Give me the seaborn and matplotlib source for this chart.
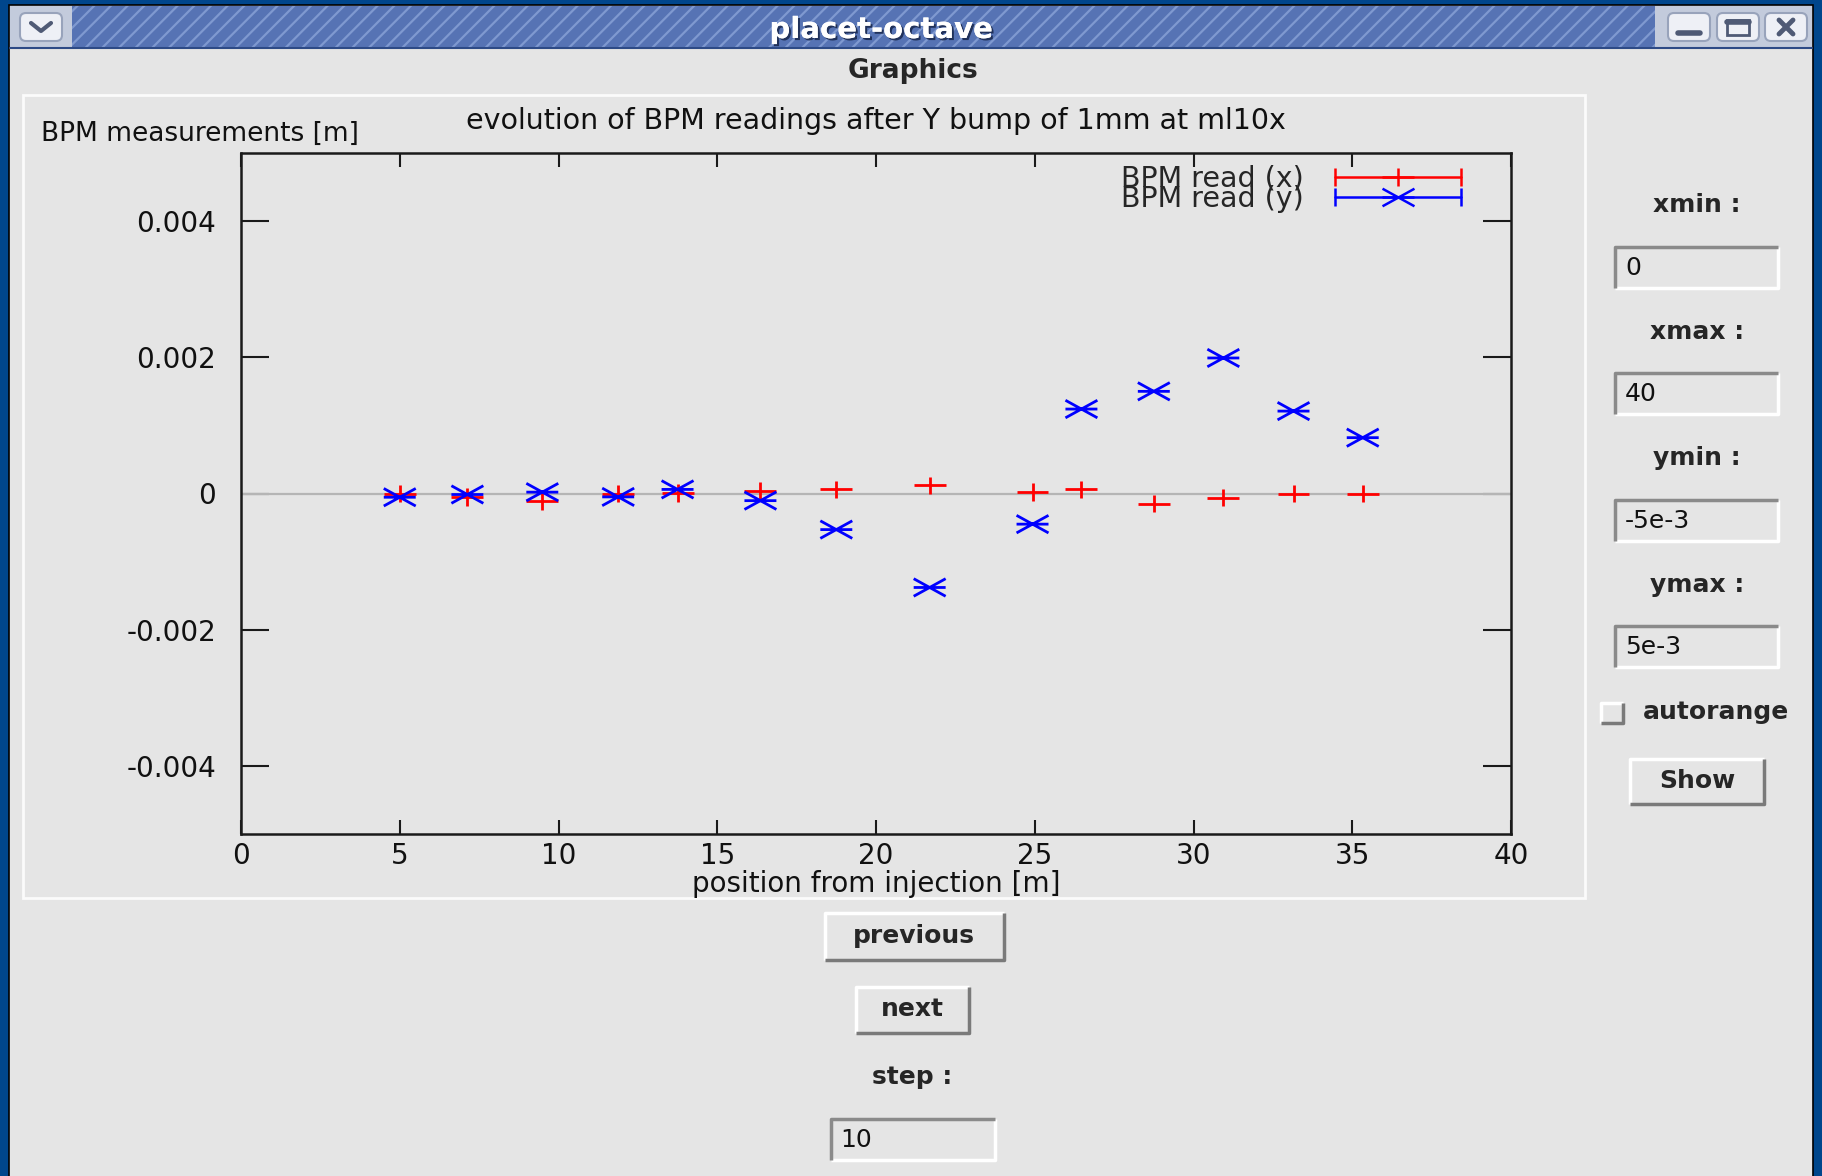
import numpy as np
import pandas as pd
import seaborn as sns
import matplotlib.pyplot as plt
import matplotlib.transforms as mtransforms
import matplotlib.patheffects as pe
from matplotlib.patches import Rectangle, FancyBboxPatch
from matplotlib.path import Path
from matplotlib.lines import Line2D
from matplotlib.legend_handler import HandlerLine2D

# BPM positions from injection [m]
positions = [5.0, 7.13, 9.49, 11.88, 13.75, 16.36, 18.75, 21.69, 24.93, 26.47, 28.75, 30.94, 33.15, 35.33]
# BPM readings [m]
read_x = [0.0, -0.055e-3, -0.115e-3, 0.0, 0.01e-3, 0.035e-3, 0.06e-3,
          0.12e-3, 0.025e-3, 0.06e-3, -0.15e-3, -0.06e-3, 0.0, 0.0]
read_y = [-0.055e-3, -0.015e-3, 0.02e-3, -0.05e-3, 0.06e-3, -0.105e-3, -0.53e-3,
          -1.38e-3, -0.45e-3, 1.24e-3, 1.50e-3, 1.99e-3, 1.21e-3, 0.82e-3]
series_labels = ['BPM read (x)', 'BPM read (y)']
series_colors = ['#ff0000', '#0000ff']

xticks = [0, 5, 10, 15, 20, 25, 30, 35, 40]
yticks = [-0.004, -0.002, 0, 0.002, 0.004]
ytick_labels = ['-0.004', '-0.002', '0', '0.002', '0.004']

# right-hand control panel
field_names = ['xmin :', 'xmax :', 'ymin :', 'ymax :']
field_values = ['0', '40', '-5e-3', '5e-3']

df = pd.DataFrame({'pos': positions, 'x': read_x, 'y': read_y})

sns.set_theme(style='ticks')
plt.rcParams['font.family'] = ['DejaVu Sans']
plt.rcParams['hatch.linewidth'] = 1.6

W, H = 1822, 1176
BG = '#e5e5e5'
fig = plt.figure(figsize=(W / 100, H / 100), dpi=100, facecolor='#00468c')
# pixel coordinates, origin top-left
px = mtransforms.Affine2D().scale(1 / W, -1 / H).translate(0, 1) + fig.transFigure


def rect(x0, y0, x1, y1, **kw):
    fig.patches.append(Rectangle((x0, y0), x1 - x0, y1 - y0, transform=px, **kw))


def line(xs, ys, **kw):
    fig.add_artist(Line2D(xs, ys, transform=px, **kw))


def sunken(x0, y0, x1, y1):
    rect(x0, y0, x1, y1, facecolor=BG, edgecolor='none')
    line([x0, x1, x1], [y1, y1, y0], color='white', lw=2.5, solid_capstyle='butt')
    line([x0, x0, x1], [y1, y0, y0], color='#8a8a8a', lw=2.5, solid_capstyle='butt')


def raised(x0, y0, x1, y1):
    rect(x0, y0, x1, y1, facecolor=BG, edgecolor='none')
    line([x0, x0, x1], [y1, y0, y0], color='white', lw=2.5, solid_capstyle='butt')
    line([x0, x1, x1], [y1, y1, y0], color='#7a7a7a', lw=2.5, solid_capstyle='butt')


# window body
rect(9, 5, 1813, 1180, facecolor=BG, edgecolor='black', lw=1.2)

# title bar
rect(10, 6, 1812, 48, facecolor='#5673b4', edgecolor='#7f99d0', hatch='//', lw=0)
rect(10, 6, 72, 48, facecolor='#c3cbdc', edgecolor='none')
rect(1655, 6, 1812, 48, facecolor='#c3cbdc', edgecolor='none')
line([10, 1812], [48, 48], color='#2d4a86', lw=1.5)
for bx0, bx1 in [(20, 62), (1668, 1710), (1717, 1759), (1765, 1807)]:
    fig.patches.append(FancyBboxPatch((bx0, 13), bx1 - bx0, 28, boxstyle='round,pad=0,rounding_size=6',
                                      transform=px, facecolor='#eef0f6', edgecolor='#98a3bb', lw=1.5))
line([31, 41, 51], [23, 31, 23], color='#4f5a75', lw=3)
line([1678, 1700], [33, 33], color='#4f5a75', lw=4)
rect(1727, 20, 1749, 35, facecolor='none', edgecolor='#4f5a75', lw=2)
line([1727, 1749], [22, 22], color='#4f5a75', lw=4)
line([1779, 1793], [20, 34], color='#4f5a75', lw=3.5)
line([1779, 1793], [34, 20], color='#4f5a75', lw=3.5)
fig.text(881, 30, 'placet-octave', transform=px, ha='center', va='center', color='white',
         fontsize=21, fontweight='bold',
         path_effects=[pe.withSimplePatchShadow(offset=(1.5, -1.5), shadow_rgbFace='#1a2a50', alpha=0.9),
                       pe.Normal()])

fig.text(913, 71, 'Graphics', transform=px, ha='center', va='center', fontsize=19, fontweight='bold')

# plot panel frame
rect(23, 95, 1585, 898, facecolor='none', edgecolor='#fbfbfb', lw=2)
fig.text(41, 134, 'BPM measurements [m]', transform=px, ha='left', va='center', fontsize=19, color='#111111')

# plot
ax = fig.add_axes([241 / W, 1 - 834 / H, (1511 - 241) / W, (834 - 153) / H])
ax.set_zorder(10)
ax.set_facecolor(BG)
ax.axhline(0, color='#b5b5b5', lw=1.6, zorder=1)

plus_path = Path([(-1, 0), (1, 0), (0, -0.55), (0, 0.55)],
                 [Path.MOVETO, Path.LINETO, Path.MOVETO, Path.LINETO])
cross_path = Path([(-1, -0.55), (1, 0.55), (-1, 0.55), (1, -0.55), (-1, 0), (1, 0)],
                  [Path.MOVETO, Path.LINETO, Path.MOVETO, Path.LINETO, Path.MOVETO, Path.LINETO])

sns.scatterplot(data=df, x='pos', y='x', marker=plus_path, s=23 ** 2, color=series_colors[0],
                facecolor='none', edgecolor=series_colors[0], linewidth=2.0, ax=ax, zorder=3)
sns.scatterplot(data=df, x='pos', y='y', marker=cross_path, s=23 ** 2, color=series_colors[1],
                facecolor='none', edgecolor=series_colors[1], linewidth=2.0, ax=ax, zorder=4)

ax.set_xlim(0, 40)
ax.set_ylim(-0.005, 0.005)
ax.set_xticks(xticks)
ax.set_xticklabels([str(t) for t in xticks])
ax.set_yticks(yticks)
ax.set_yticklabels(ytick_labels)
ax.tick_params(axis='both', which='major', direction='in', top=True, right=True,
               labelsize=20, color='#1a1a1a', width=1.5, labelcolor='#111111')
ax.tick_params(axis='y', length=20, pad=18)
ax.tick_params(axis='x', length=10, pad=6)
for sp in ax.spines.values():
    sp.set_color('#1a1a1a')
    sp.set_linewidth(1.8)
ax.set_xlabel('position from injection [m]', fontsize=20, labelpad=0, color='#111111')
ax.set_ylabel('')
ax.set_title('evolution of BPM readings after Y bump of 1mm at ml10x', fontsize=20.5, pad=17, color='#111111')

# legend, gnuplot style (label left, sample right with end caps)
handles, hmap = [], {}
for col, mpath in zip(series_colors, [plus_path, cross_path]):
    caps = Line2D([], [], color=col, lw=1.8, marker='|', markersize=13, markeredgewidth=1.8)
    mark = Line2D([], [], color=col, ls='none', marker=mpath, markersize=23, markeredgewidth=1.8)
    handles.append((caps, mark))
    hmap[caps] = HandlerLine2D(numpoints=2)
ax.legend(handles, series_labels, handler_map=hmap, loc='upper right', bbox_to_anchor=(0.967, 0.983),
          frameon=False, markerfirst=False, fontsize=20.5, handlelength=5.0, handletextpad=0.8,
          labelspacing=-0.27, borderpad=0, borderaxespad=0)

# right-hand controls
for i, (name, val) in enumerate(zip(field_names, field_values)):
    ty = 205 + i * 126.7
    fig.text(1697, ty, name, transform=px, ha='center', va='center', fontsize=18, fontweight='bold')
    by = 247 + i * 126.3
    sunken(1615, by, 1778, by + 41)
    fig.text(1625, by + 21, val, transform=px, ha='left', va='center', fontsize=18, color='#111111')

raised(1601, 703, 1623, 723)
fig.text(1643, 712, 'autorange', transform=px, ha='left', va='center', fontsize=18, fontweight='bold')
raised(1630, 759, 1764, 804)
fig.text(1697, 781, 'Show', transform=px, ha='center', va='center', fontsize=18, fontweight='bold')

# bottom controls
raised(825, 913, 1004, 960)
fig.text(914, 936, 'previous', transform=px, ha='center', va='center', fontsize=18, fontweight='bold')
raised(856, 987, 969, 1033)
fig.text(912, 1009, 'next', transform=px, ha='center', va='center', fontsize=18, fontweight='bold')
fig.text(912, 1077, 'step :', transform=px, ha='center', va='center', fontsize=18, fontweight='bold')
sunken(831, 1119, 995, 1160)
fig.text(840, 1140, '10', transform=px, ha='left', va='center', fontsize=18, color='#111111')

fig.savefig('out.png', dpi=100, facecolor=fig.get_facecolor())
